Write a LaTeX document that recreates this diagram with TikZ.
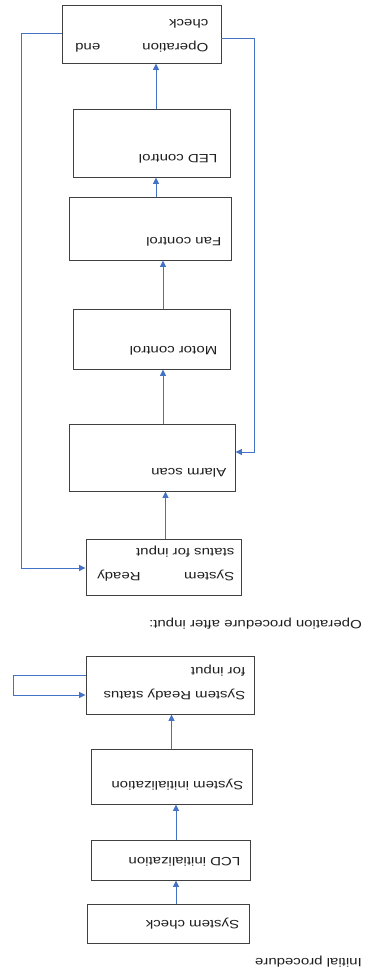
\documentclass[tikz,border=0pt]{standalone}
\usepackage{fontspec}
\setmainfont{Liberation Sans}[FakeStretch=1.25]
\usetikzlibrary{arrows.meta,calc}
\definecolor{bordo}{RGB}{64,64,64}
\definecolor{blu}{RGB}{68,114,196}
\definecolor{testo}{RGB}{30,30,30}

\begin{document}
\begin{tikzpicture}[x=1pt,y=-1pt,>={Triangle[length=6.5pt,width=6pt]},font=\fontsize{12}{24}\selectfont,
        blocco/.style={draw=bordo,line width=0.9pt,inner sep=0pt},
        scritta/.style={rotate=180,anchor=north west,inner sep=0pt,text=testo,align=left},
        freccia/.style={blu,line width=0.9pt,->}]
        \useasboundingbox (0,0) rectangle (377,976);
        % --- procedura iniziale ---
        \node[blocco,minimum width=162pt,minimum height=39pt] (chk) at (168,923.5) {};
        \node[blocco,minimum width=159pt,minimum height=40pt] (lcd) at (170.5,860) {};
        \node[blocco,minimum width=161pt,minimum height=55pt] (init) at (171.5,776.5) {};
        \node[blocco,minimum width=168pt,minimum height=58pt] (rdyA) at (170,685) {};
        \node[scritta] (tchk) at ($(chk.south east)+(-10,-14)$) {System check};
        \node[scritta] (tlcd) at ($(lcd.south east)+(-10,-14)$) {LCD initialization};
        \node[scritta] (tinit) at ($(init.south east)+(-9,-14)$) {System initialization};
        \node[scritta] (trdyA) at ($(rdyA.south east)+(-9,-14)$) {System Ready status\\for input};
        \node[scritta,anchor=west] (cap1) at (362,962) {Initial procedure};
        \draw[freccia] ([xshift=8pt]chk.north) -- ([xshift=8pt]chk.north |- lcd.south);
        \draw[freccia] ([xshift=5.5pt]lcd.north) -- ([xshift=5.5pt]lcd.north |- init.south);
        \draw[freccia] (init.north) -- (init.north |- rdyA.south);
        \draw[freccia] ([yshift=10pt]rdyA.west) -- ++(-72,0) |- ([yshift=-10pt]rdyA.west);
        % --- procedura dopo l'input ---
        \node[scritta,anchor=west] (cap2) at (362,624) {Operation procedure after input:};
        \node[blocco,minimum width=155pt,minimum height=56pt] (rdyB) at (163.5,567) {};
        \node[blocco,minimum width=166pt,minimum height=67pt] (alarm) at (152,457.5) {};
        \node[blocco,minimum width=157pt,minimum height=60pt] (motor) at (151.5,339) {};
        \node[blocco,minimum width=162pt,minimum height=63pt] (fan) at (150,228.5) {};
        \node[blocco,minimum width=157pt,minimum height=68pt] (led) at (151.5,143) {};
        \node[blocco,minimum width=159pt,minimum height=58pt] (opchk) at (141.5,34) {};
        \node[scritta,text width=137pt] (trdyB) at ($(rdyB.south east)+(-7,-14)$) {System\hfill Ready\\status for input};
        \node[scritta] (talarm) at ($(alarm.south east)+(-9,-14)$) {Alarm scan};
        \node[scritta] (tmotor) at ($(motor.south east)+(-13,-14)$) {Motor control};
        \node[scritta] (tfan) at ($(fan.south east)+(-10,-14)$) {Fan control};
        \node[scritta] (tled) at ($(led.south east)+(-13,-14)$) {LED control};
        \node[scritta,text width=133pt] (topchk) at ($(opchk.south east)+(-13,-11)$) {Operation\hfill end\\check};
        \draw[freccia] ([xshift=2pt]rdyB.north) -- ([xshift=2pt]rdyB.north |- alarm.south);
        \draw[freccia] ([xshift=11pt]alarm.north) -- ([xshift=11pt]alarm.north |- motor.south);
        \draw[freccia] ([xshift=11.5pt]motor.north) -- ([xshift=11.5pt]motor.north |- fan.south);
        \draw[freccia] ([xshift=6pt]fan.north) -- ([xshift=6pt]fan.north |- led.south);
        \draw[freccia] ([xshift=4.5pt]led.north) -- ([xshift=4.5pt]led.north |- opchk.south);
        % --- ritorni ---
        \draw[freccia] ([yshift=-4pt]opchk.east) -- ++(33,0) |- ([yshift=5.5pt]alarm.east);
        \draw[freccia] ([yshift=1pt]opchk.west) -- ++(-40,0) |- ([yshift=-1pt]rdyB.west);
    \end{tikzpicture}
\end{document}
